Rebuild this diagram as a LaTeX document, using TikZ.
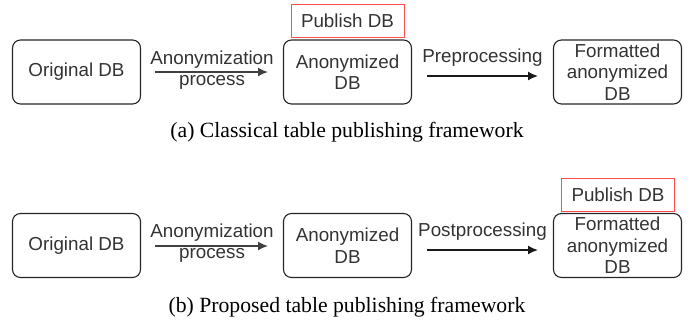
\documentclass[tikz,border=0pt]{standalone}
\usepackage{fontspec}
\setmainfont{Liberation Sans}
\newfontfamily\capfont{Liberation Serif}
\usetikzlibrary{arrows.meta,positioning}

\begin{document}
\begin{tikzpicture}[x=1pt,y=-1pt,
  dbbox/.style={rectangle,rounded corners=8pt,draw=black!85,line width=1.1pt,minimum width=128pt,minimum height=64pt,align=center,inner sep=2pt,font=\fontsize{18.8}{21.5}\selectfont,text=black!80},
  pubbox/.style={rectangle,draw=red!70,line width=1pt,minimum width=113pt,minimum height=33pt,font=\fontsize{18.8}{21.5}\selectfont,text=black!80},
  steplabel/.style={align=center,font=\fontsize{18.8}{21}\selectfont,text=black!80,inner sep=0pt},
  caption/.style={font=\capfont\fontsize{21.7}{24}\selectfont,inner sep=0pt}]
\useasboundingbox (0,0) rectangle (697,322);

% (a) classical
\node[dbbox] (orig_a) at (76.5,72) {Original DB};
\node[dbbox] (anon_a) at (347.5,72) {Anonymized\\DB};
\node[dbbox] (form_a) at (617.5,72) {Formatted\\anonymized\\DB};
\node[pubbox] (pub_a) at (347.5,20.5) {Publish DB};

\coordinate (a1s) at (155,72);
\coordinate (a1e) at (268,72);
\draw[line width=1.6pt,black!75,-{Latex[length=10pt,width=9pt]}] (a1s) -- (a1e);
\node[steplabel] (anonproc_a) at (212,70) {Anonymization\\process};

\coordinate (a2s) at (427,76);
\coordinate (a2e) at (538,76);
\draw[line width=1.6pt,black!90,-{Latex[length=10pt,width=9pt]}] (a2s) -- (a2e);
\node[steplabel] (preproc_a) at (482.5,58) {Preprocessing};

\node[caption] (cap_a) at (347,132) {(a) Classical table publishing framework};

% (b) proposed
\node[dbbox] (orig_b) at (76.5,245.5) {Original DB};
\node[dbbox] (anon_b) at (347.5,245.5) {Anonymized\\DB};
\node[dbbox] (form_b) at (617.5,245.5) {Formatted\\anonymized\\DB};
\node[pubbox] (pub_b) at (618,195) {Publish DB};

\coordinate (b1s) at (155,246);
\coordinate (b1e) at (268,246);
\draw[line width=1.6pt,black!75,-{Latex[length=10pt,width=9pt]}] (b1s) -- (b1e);
\node[steplabel] (anonproc_b) at (212,243.5) {Anonymization\\process};

\coordinate (b2s) at (427,250);
\coordinate (b2e) at (538,250);
\draw[line width=1.6pt,black!90,-{Latex[length=10pt,width=9pt]}] (b2s) -- (b2e);
\node[steplabel] (postproc_b) at (482.5,232) {Postprocessing};

\node[caption] (cap_b) at (347,307) {(b) Proposed table publishing framework};

\end{tikzpicture}
\end{document}
